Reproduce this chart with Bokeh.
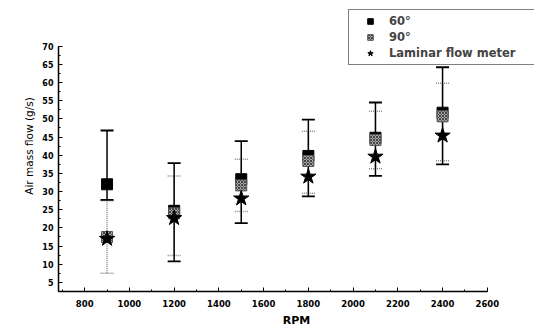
from bokeh.plotting import figure
from bokeh.models import (ColumnDataSource, Whisker, TeeHead, Legend, LegendItem,
                          Range1d, SingleIntervalTicker)
from bokeh.embed import file_html
from bokeh.resources import INLINE

rpm = [900, 1200, 1500, 1800, 2100, 2400]

flow_60 = [32.0, 24.7, 33.4, 39.8, 44.8, 51.7]
upper_60 = [46.8, 37.8, 43.9, 49.8, 54.5, 64.2]
lower_60 = [27.7, 10.8, 21.3, 28.7, 34.3, 37.5]

flow_90 = [17.5, 24.0, 31.7, 38.4, 44.2, 50.7]
upper_90 = [27.5, 34.3, 38.9, 46.6, 52.1, 59.8]
lower_90 = [7.5, 12.4, 24.5, 29.5, 36.3, 38.5]

flow_lfm = [17.0, 22.7, 28.1, 34.1, 39.6, 45.4]

labels = ["60°", "90°", "Laminar flow meter"]

src = ColumnDataSource(dict(rpm=rpm, f60=flow_60, up60=upper_60, lo60=lower_60,
                            f90=flow_90, up90=upper_90, lo90=lower_90, lfm=flow_lfm))

p = figure(width=534, height=329, output_backend="svg", toolbar_location=None,
           x_range=Range1d(683, 2811), y_range=Range1d(2.5, 82.57),
           min_border_left=58, min_border_right=0, min_border_top=0, min_border_bottom=36)
p.outline_line_color = None
p.xgrid.visible = False
p.ygrid.visible = False
p.background_fill_color = "white"
p.border_fill_color = "white"

# error bars
w90 = Whisker(base="rpm", upper="up90", lower="lo90", source=src,
              line_color="#8a8a8a", line_width=1.5, line_dash="1 1",
              upper_head=TeeHead(size=13, line_color="#8a8a8a", line_width=1.5, line_dash="1 1"),
              lower_head=TeeHead(size=13, line_color="#8a8a8a", line_width=1.5, line_dash="1 1"))
w60 = Whisker(base="rpm", upper="up60", lower="lo60", source=src,
              line_color="black", line_width=1.5,
              upper_head=TeeHead(size=13, line_color="black", line_width=1.8),
              lower_head=TeeHead(size=13, line_color="black", line_width=1.8))
p.add_layout(w90)
p.add_layout(w60)

r60 = p.scatter("rpm", "f60", source=src, marker="square", size=11,
                fill_color="black", line_color="black")
r90 = p.scatter("rpm", "f90", source=src, marker="square", size=11,
                fill_color="#a8a8a8", line_color="#555555", line_width=1,
                hatch_pattern="x", hatch_color="#444444", hatch_scale=3, hatch_weight=1)
rl = p.scatter("rpm", "lfm", source=src, marker="star", size=16,
               fill_color="black", line_color="black")

# axes
for ax in (p.xaxis[0], p.yaxis[0]):
    ax.axis_line_color = "black"
    ax.axis_line_width = 1.5
    ax.major_tick_in = 4
    ax.major_tick_out = 0
    ax.minor_tick_in = 2
    ax.minor_tick_out = 0
    ax.major_tick_line_color = "black"
    ax.minor_tick_line_color = "black"
    ax.major_label_text_font = "DejaVu Sans"
    ax.major_label_text_font_style = "bold"
    ax.major_label_text_color = "black"

p.xaxis.bounds = (683, 2600)
p.yaxis.bounds = (2.5, 70)
p.xaxis.ticker = SingleIntervalTicker(interval=200, num_minor_ticks=2)
p.yaxis.ticker = SingleIntervalTicker(interval=5, num_minor_ticks=2)
p.xaxis.major_label_text_font_size = "8.5px"
p.yaxis.major_label_text_font_size = "8px"
p.xaxis.major_label_standoff = 8
p.yaxis.major_label_standoff = 5

p.xaxis.axis_label = "RPM"
p.xaxis.axis_label_text_font = "DejaVu Sans"
p.xaxis.axis_label_text_font_style = "bold"
p.xaxis.axis_label_text_font_size = "11px"
p.xaxis.axis_label_standoff = 4
p.xaxis.axis_label_text_color = "black"

p.yaxis.axis_label = "Air mass flow (g/s)"
p.yaxis.axis_label_text_font = "DejaVu Sans"
p.yaxis.axis_label_text_font_style = "normal"
p.yaxis.axis_label_text_font_size = "10.5px"
p.yaxis.axis_label_standoff = 4
p.yaxis.axis_label_text_color = "black"

legend = Legend(items=[LegendItem(label=labels[0], renderers=[r60]),
                       LegendItem(label=labels[1], renderers=[r90]),
                       LegendItem(label=labels[2], renderers=[rl])],
                location=(290, 226), padding=3, spacing=0, label_height=16,
                label_width=170,
                glyph_width=36, glyph_height=14, label_standoff=1, margin=0,
                border_line_color="black", border_line_width=1.2,
                label_text_font="DejaVu Sans", label_text_font_style="bold",
                label_text_font_size="11.5px", background_fill_alpha=1)
p.add_layout(legend, "center")

open("out.html", "w").write(file_html(p, INLINE))
